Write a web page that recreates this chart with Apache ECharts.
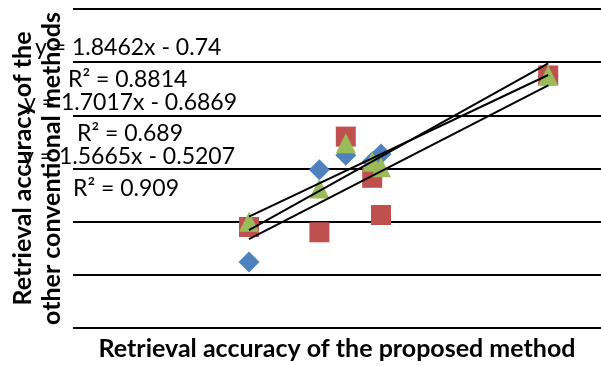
<!DOCTYPE html>
<html>
<head>
<meta charset="utf-8">
<script src="https://cdn.jsdelivr.net/npm/echarts@6/dist/echarts.min.js"></script>
<style>
  html, body { margin: 0; padding: 0; background: #fff; }
  #chart { width: 601px; height: 366px; }
</style>
</head>
<body>
<div id="chart"></div>
<script>
// Retrieval accuracy: proposed method (x) vs. conventional methods (y)
const xValues = [0.60, 0.68, 0.71, 0.74, 0.75, 0.94];
const methodA = [0.248, 0.595, 0.65, 0.625, 0.655, 0.947];
const methodB = [0.38, 0.36, 0.72, 0.565, 0.425, 0.95];
const methodC = [0.40, 0.525, 0.695, 0.625, 0.605, 0.95];

// Linear trendline coefficients and fit quality, one per method
const trendSlopes = [1.8462, 1.7017, 1.5665];
const trendIntercepts = [-0.74, -0.6869, -0.5207];
const trendR2 = ['0.8814', '0.689', '0.909'];

const xAxisTitle = 'Retrieval accuracy of the proposed method';
const yAxisTitle = 'Retrieval accuracy of the\nother conventional methods';

const colors = ['#4F81BD', '#C0504D', '#9BBB59'];
const symbols = ['diamond', 'rect', 'triangle'];
const symbolSizes = [[21, 21], [20, 20], [20, 20]];
const methods = [methodA, methodB, methodC];

const pairs = ys => xValues.map((x, i) => [x, ys[i]]);
const xMin = Math.min(...xValues);
const xMax = Math.max(...xValues);

const scatterSeries = methods.map((ys, k) => ({
  type: 'scatter',
  data: pairs(ys),
  symbol: symbols[k],
  symbolSize: symbolSizes[k],
  itemStyle: { color: colors[k], opacity: 1 },
  z: 2 + k,
  silent: true
}));

const trendSeries = trendSlopes.map((m, k) => ({
  type: 'line',
  data: [[xMin, m * xMin + trendIntercepts[k]], [xMax, m * xMax + trendIntercepts[k]]],
  symbol: 'none',
  lineStyle: { color: '#000', width: 2 },
  z: 10,
  silent: true
}));

function fmtCoef(v) {
  return (v < 0 ? ' - ' : ' + ') + Math.abs(v);
}

const eqFont = '23px Lato';
const labelSpots = [
  { x: 35, yEq: 48, yR: 80, xR: 68 },
  { x: 24, yEq: 103, yR: 134, xR: 77 },
  { x: 22, yEq: 157, yR: 189, xR: 73 }
];
const graphics = [];
trendSlopes.forEach((m, k) => {
  const s = labelSpots[k];
  graphics.push({
    type: 'text', x: s.x, y: s.yEq, z: 20,
    style: { text: 'y = ' + m + 'x' + fmtCoef(trendIntercepts[k]), font: eqFont, fill: '#000', align: 'left', verticalAlign: 'middle' }
  });
  graphics.push({
    type: 'text', x: s.xR, y: s.yR, z: 20,
    style: { text: 'R² = ' + trendR2[k], font: eqFont, fill: '#000', align: 'left', verticalAlign: 'middle' }
  });
});

const chart = echarts.init(document.getElementById('chart'), null, { renderer: 'canvas' });
chart.setOption({
  animation: false,
  backgroundColor: '#fff',
  grid: { left: 70, right: -4, top: 9, bottom: 37 },
  xAxis: {
    type: 'value', min: 0.4, max: 1.0,
    name: xAxisTitle, nameLocation: 'middle', nameGap: 8,
    nameTextStyle: { fontFamily: 'Lato', fontWeight: 'bold', fontSize: 25, color: '#000' },
    axisLine: { show: false }, axisTick: { show: false }, axisLabel: { show: false },
    splitLine: { show: false }
  },
  yAxis: {
    type: 'value', min: 0, max: 1.2, interval: 0.2,
    name: yAxisTitle, nameLocation: 'middle', nameGap: 7,
    nameTextStyle: { fontFamily: 'Lato', fontWeight: 'bold', fontSize: 25, color: '#000', lineHeight: 29 },
    axisLine: { show: false }, axisTick: { show: false }, axisLabel: { show: false },
    splitLine: { show: true, lineStyle: { color: '#000', width: 2 } }
  },
  series: scatterSeries.concat(trendSeries),
  graphic: graphics
});
</script>
</body>
</html>
